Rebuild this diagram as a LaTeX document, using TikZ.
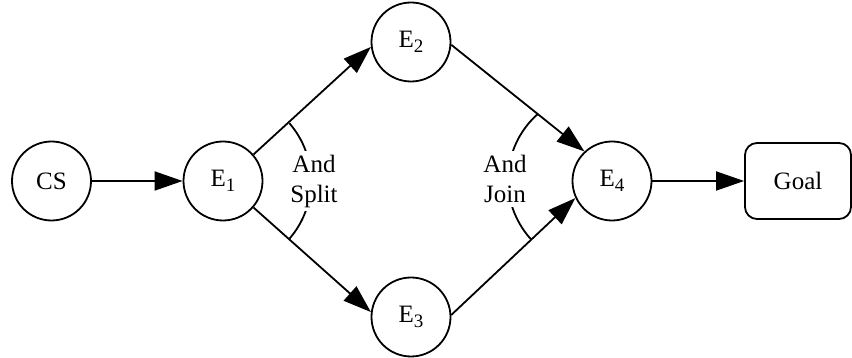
\documentclass[tikz,border=0pt]{standalone}
\usepackage{fontspec}
\setmainfont{Liberation Serif}
\usetikzlibrary{positioning, arrows.meta}
\newcommand{\ev}[1]{E\raisebox{-2.5pt}{\fontsize{9.5}{10}\selectfont #1}}

\begin{document}
\begin{tikzpicture}[
  on grid,
  font=\fontsize{12.5}{15}\selectfont,
  event/.style={circle, draw, line width=0.9pt, minimum size=39.5pt, inner sep=0pt},
  goal/.style={rectangle, rounded corners=6pt, draw, line width=0.9pt, minimum width=53pt, minimum height=38pt},
  link/.style={line width=0.9pt, -{Triangle[length=14pt, width=9.5pt]}},
  gate/.style={align=center, fill=white, inner sep=2pt}
]
  \useasboundingbox (0,0) rectangle (426pt,179pt);

  % events, left to right
  \node[event] (cs) at (25.75pt,88.5pt) {CS};
  \node[event, right=85.75pt of cs] (e1) {\ev{1}};
  \node[event, above right=69.5pt and 94pt of e1] (e2) {\ev{2}};
  \node[event, below right=68pt and 94pt of e1] (e3) {\ev{3}};
  \node[event, below right=69.5pt and 100.5pt of e2] (e4) {\ev{4}};
  \node[goal, right=93pt of e4] (goal) {Goal};

  % split and join arcs
  \draw[line width=0.9pt] ([shift={(-41:44pt)}]e1.center) arc[start angle=-41, end angle=41, radius=44pt];
  \coordinate (jc) at ([shift={(-8pt,0.5pt)}]e4.center);
  \draw[line width=0.9pt] ([shift={(131.4:44pt)}]jc) arc[start angle=131.4, end angle=222.6, radius=44pt];

  % edges
  \draw[link] (cs) -- (e1);
  \draw[link] (e1.41) -- (e2.187);
  \draw[link] (e1.-41) -- (e3.173);
  \draw[link] (e2.-4) -- (e4.133);
  \draw[link] (e3.3) -- (e4.205);
  \draw[link] (e4) -- (goal);

  \node[gate, right=45.5pt of e1] (split) {And\\Split};
  \node[gate, left=53.5pt of e4, yshift=1pt] (join) {And\\Join};
\end{tikzpicture}
\end{document}
